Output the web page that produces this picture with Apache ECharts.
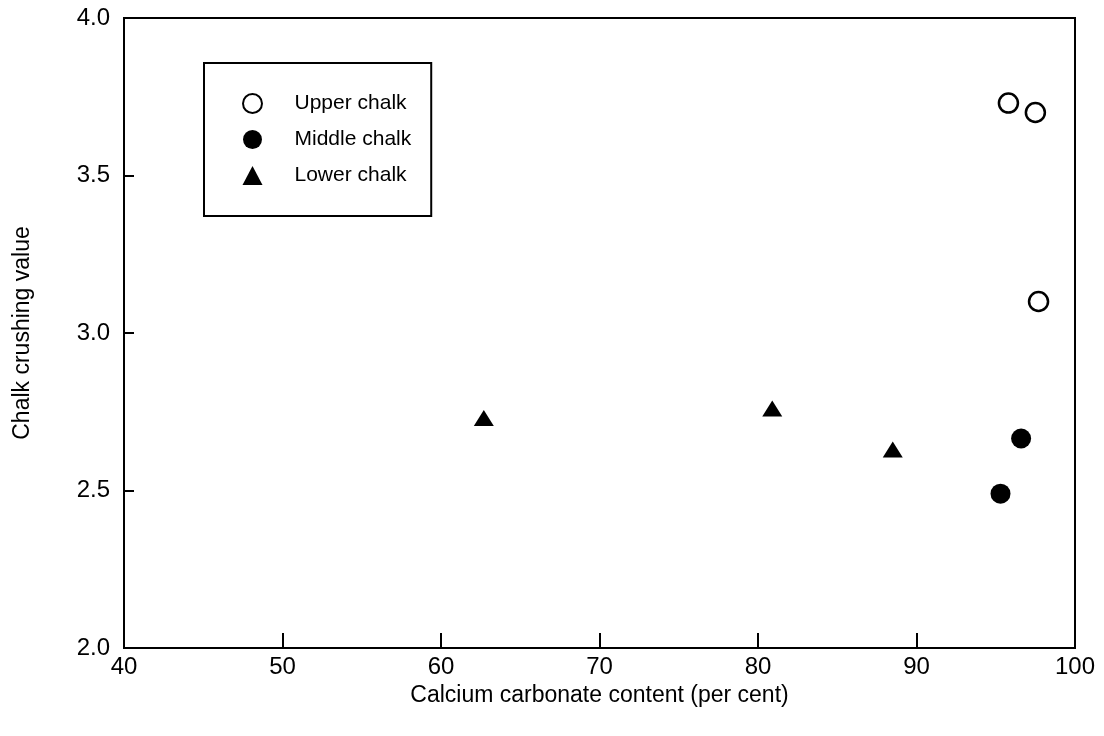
<!DOCTYPE html>
<html lang="en">
<head>
    <meta charset="UTF-8">
    <title>Chalk crushing value</title>
    <script src="https://cdn.jsdelivr.net/npm/echarts@6.0.0/dist/echarts.min.js"></script>
    <style>
        body { margin: 0; background: #fff; }
    </style>
</head>
<body>
    <div id="main" style="width: 1104px;height:736px;"></div>
    <script type="text/javascript">
        // [calcium carbonate %, crushing value]
        const upperChalk = [[95.8, 3.73], [97.5, 3.70], [97.7, 3.10]];
        const middleChalk = [[96.6, 2.665], [95.3, 2.49]];
        const lowerChalk = [[62.7, 2.73], [80.9, 2.76], [88.5, 2.63]];
        const xTicks = [40, 50, 60, 70, 80, 90, 100];
        const yTicks = [2.0, 2.5, 3.0, 3.5, 4.0];

        const font = 'Liberation Sans';
        let myChart = echarts.init(document.getElementById('main'));

        let options = {
            animation: false,
            textStyle: { fontFamily: font, color: '#000' },
            grid: {
                left: 124, right: 29, top: 18, bottom: 88,
                show: true, borderColor: '#000', borderWidth: 2
            },
            legend: {
                orient: 'vertical',
                left: 204, top: 63,
                padding: [30, 20, 30, 38],
                itemGap: 15,
                itemWidth: 20, itemHeight: 19,
                borderColor: '#000', borderWidth: 2,
                textStyle: { fontFamily: font, fontSize: 21, color: '#000', padding: [0, 0, 0, 27] },
                data: ['Upper chalk', 'Middle chalk', 'Lower chalk']
            },
            xAxis: {
                type: 'value',
                min: xTicks[0], max: xTicks[xTicks.length - 1], interval: 10,
                name: 'Calcium carbonate content (per cent)',
                nameLocation: 'middle', nameGap: 30,
                nameTextStyle: { fontSize: 23, color: '#000' },
                axisLine: { lineStyle: { color: '#000', width: 2 } },
                axisTick: { inside: true, length: 15, lineStyle: { color: '#000', width: 2 } },
                axisLabel: { fontSize: 24, color: '#000', margin: 7 },
                splitLine: { show: false }
            },
            yAxis: {
                type: 'value',
                min: yTicks[0], max: yTicks[yTicks.length - 1], interval: 0.5,
                name: 'Chalk crushing value',
                nameLocation: 'middle', nameGap: 90,
                nameTextStyle: { fontSize: 23, color: '#000' },
                axisLine: { lineStyle: { color: '#000', width: 2 } },
                axisTick: { inside: true, length: 10, lineStyle: { color: '#000', width: 2 } },
                axisLabel: {
                    fontSize: 24, color: '#000', margin: 14,
                    formatter: v => v.toFixed(1)
                },
                splitLine: { show: false }
            },
            series: [
                {
                    name: 'Upper chalk',
                    type: 'scatter',
                    symbol: 'circle',
                    symbolSize: 19,
                    itemStyle: { color: '#fff', borderColor: '#000', borderWidth: 2.5, opacity: 1 },
                    data: upperChalk
                },
                {
                    name: 'Middle chalk',
                    type: 'scatter',
                    symbol: 'circle',
                    symbolSize: 20,
                    itemStyle: { color: '#000', opacity: 1 },
                    data: middleChalk
                },
                {
                    name: 'Lower chalk',
                    type: 'scatter',
                    symbol: 'triangle',
                    symbolSize: [20, 16],
                    itemStyle: { color: '#000', opacity: 1 },
                    data: lowerChalk
                }
            ]
        };

        myChart.setOption(options);
    </script>
</body>
</html>
